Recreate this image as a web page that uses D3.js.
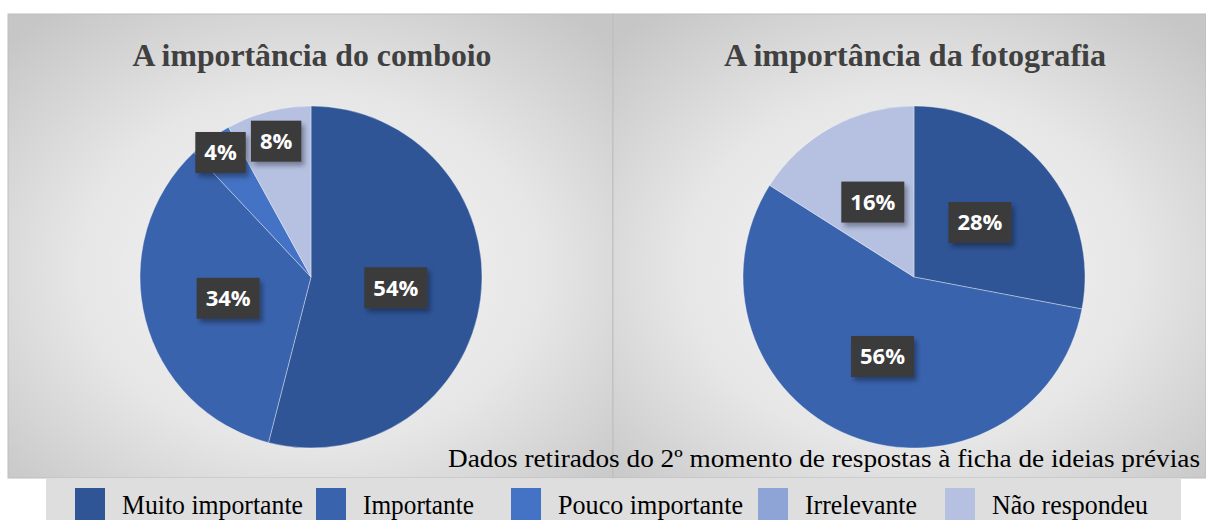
<!DOCTYPE html>
<html>
<head>
<meta charset="utf-8">
<script src="https://cdn.jsdelivr.net/npm/d3@7"></script>
<style>
  body { margin: 0; background: #fff; }
  svg { display: block; }
  .serif { font-family: 'Liberation Serif', 'Times New Roman', Times, serif; }
  .lbltxt { font-family: 'Open Sans', 'Noto Sans', sans-serif; font-weight: bold; }
</style>
</head>
<body>
<svg id="chart" width="1206" height="520"></svg>
<script>
// categories and values
const categories = ["Muito importante", "Importante", "Pouco importante", "Irrelevante", "Não respondeu"];
const colors = ["#2f5597", "#3a63ae", "#4472c4", "#8fa4d6", "#b6c1e2"];
const comboioValues = [54, 34, 4, 0, 8];
const fotografiaValues = [28, 56, 0, 0, 16];
const titles = ["A importância do comboio", "A importância da fotografia"];
const note = "Dados retirados do 2º momento de respostas à ficha de ideias prévias";

let svg = d3.select("#chart");
let defs = svg.append("defs");

let grad = defs.append("radialGradient").attr("id", "bg")
    .attr("cx", "50%").attr("cy", "55%").attr("r", "70%");
grad.append("stop").attr("offset", "0%").attr("stop-color", "#f7f7f7");
grad.append("stop").attr("offset", "55%").attr("stop-color", "#e6e6e6");
grad.append("stop").attr("offset", "100%").attr("stop-color", "#c6c6c6");

let shadow = defs.append("filter").attr("id", "shadow")
    .attr("x", "-20%").attr("y", "-20%").attr("width", "150%").attr("height", "160%");
shadow.append("feDropShadow").attr("dx", 3).attr("dy", 4).attr("stdDeviation", 2.5)
    .attr("flood-color", "#000").attr("flood-opacity", 0.35);

// fit a text element to a measured width
function fitWidth(sel, w) {
    sel.attr("textLength", w).attr("lengthAdjust", "spacingAndGlyphs");
}

let panels = [
    {x: 8, w: 605, values: comboioValues, title: titles[0], titleW: 359},
    {x: 613, w: 593, values: fotografiaValues, title: titles[1], titleW: 382}
];
const panelTop = 14, panelBottom = 478;
const radius = 171;

let pie = d3.pie().sort(null).value(d => d);
let arc = d3.arc().innerRadius(0).outerRadius(radius);

panels.forEach((p, i) => {
    let g = svg.append("g").attr("transform", `translate(${p.x}, ${panelTop})`);
    g.append("rect")
        .attr("width", p.w).attr("height", panelBottom - panelTop)
        .attr("fill", "url(#bg)")
        .attr("stroke", "#bdbdbd").attr("stroke-width", 1);

    let cx = i === 0 ? 304 : 302;
    g.append("text")
        .attr("class", "serif")
        .attr("x", cx).attr("y", 52)
        .attr("text-anchor", "middle")
        .attr("font-weight", "bold")
        .attr("font-size", 32)
        .attr("fill", "#404040")
        .text(p.title)
        .call(fitWidth, p.titleW);

    let pg = g.append("g").attr("transform", `translate(${cx - 1}, ${277 - panelTop})`);
    let arcs = pie(p.values);
    pg.selectAll("path.slice")
        .data(arcs.filter(d => d.data > 0))
        .enter().append("path")
        .attr("class", "slice")
        .attr("d", arc)
        .attr("fill", d => colors[d.index])
        .attr("stroke", "rgba(255,255,255,0.45)")
        .attr("stroke-width", 0.8);

    let labels = pg.selectAll("g.lbl")
        .data(arcs.filter(d => d.data > 0))
        .enter().append("g")
        .attr("class", "lbl")
        .attr("transform", d => {
            let a = (d.startAngle + d.endAngle) / 2;
            let r = d.data < 10 ? (d.data < 5 ? 0.9 : 0.82) * radius : 0.5 * radius;
            return `translate(${Math.sin(a) * r}, ${-Math.cos(a) * r})`;
        });
    labels.each(function(d) {
        let lg = d3.select(this);
        let t = lg.append("text")
            .attr("class", "lbltxt")
            .attr("text-anchor", "middle")
            .attr("dy", "0.36em")
            .attr("font-size", 22)
            .attr("fill", "#fff")
            .text(d.data + "%");
        let bw = t.node().getComputedTextLength() + 18;
        lg.insert("rect", "text")
            .attr("x", -bw / 2).attr("y", -20.5)
            .attr("width", bw).attr("height", 41)
            .attr("fill", "#3b3b3b")
            .attr("filter", "url(#shadow)");
    });
});

svg.append("text")
    .attr("class", "serif")
    .attr("x", 448).attr("y", 467)
    .attr("font-size", 25)
    .attr("fill", "#000")
    .text(note)
    .call(fitWidth, 752);

// legend
let legend = svg.append("g");
legend.append("rect")
    .attr("x", 46).attr("y", 479).attr("width", 1135).attr("height", 41)
    .attr("fill", "#dedede");
const legendX = [75, 316, 511, 758, 945];
const legendW = [181, 111, 185, 112, 156];
let items = legend.selectAll("g.item")
    .data(categories)
    .enter().append("g")
    .attr("class", "item")
    .attr("transform", (d, i) => `translate(${legendX[i]}, 488)`);
items.append("rect")
    .attr("width", 30).attr("height", 32)
    .attr("fill", (d, i) => colors[i]);
items.append("text")
    .attr("class", "serif")
    .attr("x", 47).attr("y", 26)
    .attr("font-size", 28)
    .attr("fill", "#000")
    .text(d => d)
    .each(function(d, i) { d3.select(this).call(fitWidth, legendW[i]); });
</script>
</body>
</html>
